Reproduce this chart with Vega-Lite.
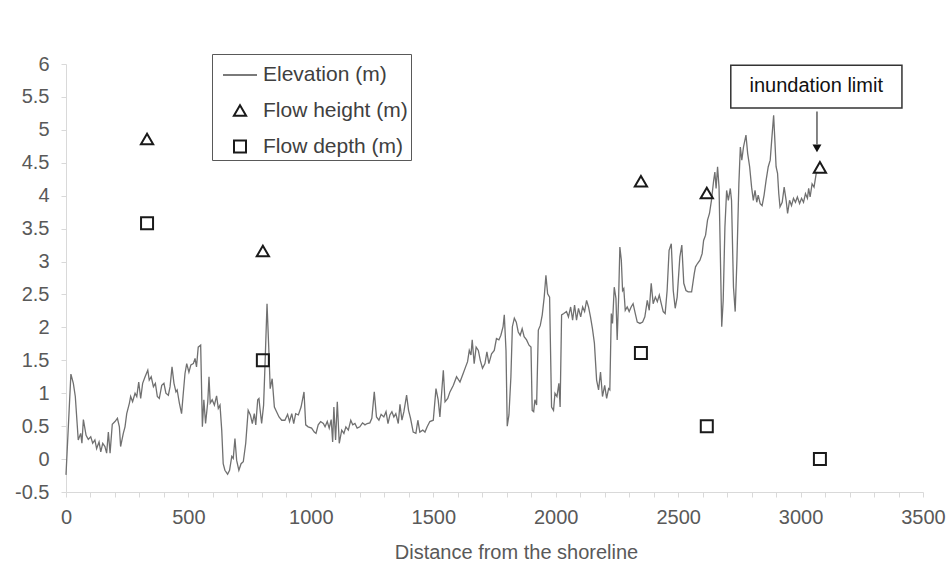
{
  "$schema": "https://vega.github.io/schema/vega-lite/v6.json",
  "width": 857,
  "height": 428,
  "autosize": {"type": "none"},
  "padding": {"left": 66, "top": 64, "right": 28, "bottom": 80},
  "background": "white",
  "config": {
    "view": {"stroke": null},
    "font": "Liberation Sans",
    "axis": {"grid": false, "labelOverlap": false, "labelSeparation": -40, "domainColor": "#d9d9d9", "tickColor": "#d9d9d9", "tickSize": 5, "labelFont": "Liberation Sans", "labelFontSize": 20, "labelColor": "#595959", "titleFont": "Liberation Sans", "titleFontSize": 20, "titleColor": "#595959", "titleFontWeight": "normal"},
    "axisX": {"tickCount": 35, "labelExpr": "datum.value % 500 === 0 ? format(datum.value, 'd') : ''", "labelFlush": false, "labelPadding": 10, "titleX": 450, "titleY": 66, "titleBaseline": "alphabetic", "titleAlign": "center"},
    "axisY": {"tickCount": 13, "labelExpr": "datum.value < 0 ? '-' + format(-datum.value, '~g') : format(datum.value, '~g')", "labelPadding": 12},
    "legend": {"orient": "none", "legendX": 146, "legendY": -10, "strokeColor": "#595959", "fillColor": "white", "padding": 3, "symbolOffset": 7, "labelFontSize": 21, "labelColor": "#404040", "labelFont": "Liberation Sans", "symbolStrokeWidth": 2, "labelOffset": 5, "rowPadding": 14}
  },
  "datasets": {
    "elevation": [
      {"d":0,"e":-0.24},{"d":20,"e":1.29},{"d":30,"e":1.15},{"d":38,"e":0.95},{"d":50,"e":0.29},{"d":60,"e":0.39},{"d":65,"e":0.24},{"d":71,"e":0.6},{"d":82,"e":0.36},{"d":91,"e":0.3},{"d":101,"e":0.34},{"d":109,"e":0.24},{"d":118,"e":0.29},{"d":125,"e":0.16},{"d":135,"e":0.26},{"d":142,"e":0.11},{"d":150,"e":0.24},{"d":159,"e":0.19},{"d":166,"e":0.09},{"d":173,"e":0.41},{"d":180,"e":0.09},{"d":189,"e":0.53},{"d":200,"e":0.57},{"d":210,"e":0.62},{"d":218,"e":0.49},{"d":223,"e":0.19},{"d":234,"e":0.39},{"d":241,"e":0.49},{"d":248,"e":0.69},{"d":259,"e":0.85},{"d":264,"e":0.95},{"d":272,"e":0.87},{"d":282,"e":1.0},{"d":289,"e":0.95},{"d":297,"e":1.17},{"d":305,"e":0.92},{"d":313,"e":1.15},{"d":323,"e":1.25},{"d":334,"e":1.35},{"d":340,"e":1.2},{"d":348,"e":1.25},{"d":357,"e":1.1},{"d":365,"e":1.15},{"d":373,"e":0.95},{"d":381,"e":0.92},{"d":391,"e":1.12},{"d":400,"e":1.15},{"d":408,"e":1.0},{"d":418,"e":0.97},{"d":425,"e":1.1},{"d":433,"e":1.4},{"d":441,"e":1.15},{"d":449,"e":1.02},{"d":454,"e":1.05},{"d":463,"e":0.85},{"d":472,"e":0.69},{"d":479,"e":1.0},{"d":486,"e":1.3},{"d":493,"e":1.45},{"d":502,"e":1.32},{"d":510,"e":1.43},{"d":520,"e":1.45},{"d":527,"e":1.53},{"d":533,"e":1.4},{"d":540,"e":1.7},{"d":550,"e":1.73},{"d":557,"e":0.49},{"d":563,"e":0.9},{"d":570,"e":0.54},{"d":579,"e":0.87},{"d":584,"e":1.25},{"d":589,"e":0.85},{"d":597,"e":0.9},{"d":606,"e":0.82},{"d":615,"e":0.96},{"d":622,"e":0.77},{"d":629,"e":0.82},{"d":636,"e":0.44},{"d":642,"e":-0.07},{"d":649,"e":-0.17},{"d":660,"e":-0.23},{"d":668,"e":-0.17},{"d":677,"e":0.04},{"d":683,"e":0.01},{"d":690,"e":0.31},{"d":697,"e":-0.02},{"d":706,"e":-0.17},{"d":715,"e":-0.07},{"d":724,"e":-0.04},{"d":734,"e":0.24},{"d":744,"e":0.74},{"d":753,"e":0.67},{"d":761,"e":0.54},{"d":769,"e":0.69},{"d":775,"e":0.52},{"d":783,"e":0.9},{"d":788,"e":0.92},{"d":793,"e":0.74},{"d":799,"e":0.54},{"d":807,"e":0.82},{"d":812,"e":1.35},{"d":821,"e":2.36},{"d":829,"e":1.6},{"d":834,"e":1.07},{"d":842,"e":1.22},{"d":851,"e":0.79},{"d":860,"e":0.72},{"d":870,"e":0.64},{"d":881,"e":0.59},{"d":894,"e":0.59},{"d":905,"e":0.68},{"d":913,"e":0.57},{"d":922,"e":0.69},{"d":930,"e":0.54},{"d":938,"e":0.69},{"d":949,"e":0.67},{"d":960,"e":0.79},{"d":972,"e":1.02},{"d":979,"e":0.52},{"d":989,"e":0.49},{"d":1003,"e":0.47},{"d":1014,"e":0.41},{"d":1021,"e":0.39},{"d":1030,"e":0.52},{"d":1040,"e":0.57},{"d":1051,"e":0.54},{"d":1058,"e":0.49},{"d":1067,"e":0.57},{"d":1075,"e":0.47},{"d":1083,"e":0.6},{"d":1089,"e":0.26},{"d":1094,"e":0.79},{"d":1101,"e":0.29},{"d":1108,"e":0.87},{"d":1116,"e":0.24},{"d":1126,"e":0.44},{"d":1135,"e":0.39},{"d":1143,"e":0.49},{"d":1153,"e":0.44},{"d":1163,"e":0.59},{"d":1171,"e":0.52},{"d":1180,"e":0.54},{"d":1189,"e":0.47},{"d":1200,"e":0.49},{"d":1211,"e":0.55},{"d":1221,"e":0.52},{"d":1230,"e":0.54},{"d":1241,"e":0.55},{"d":1249,"e":0.62},{"d":1259,"e":1.02},{"d":1268,"e":0.64},{"d":1278,"e":0.59},{"d":1287,"e":0.68},{"d":1298,"e":0.64},{"d":1307,"e":0.72},{"d":1315,"e":0.54},{"d":1323,"e":0.67},{"d":1331,"e":0.72},{"d":1339,"e":0.64},{"d":1347,"e":0.69},{"d":1357,"e":0.54},{"d":1364,"e":0.83},{"d":1372,"e":0.59},{"d":1380,"e":0.72},{"d":1391,"e":0.97},{"d":1399,"e":0.74},{"d":1407,"e":0.62},{"d":1418,"e":0.41},{"d":1429,"e":0.39},{"d":1437,"e":0.59},{"d":1445,"e":0.41},{"d":1457,"e":0.44},{"d":1466,"e":0.41},{"d":1475,"e":0.49},{"d":1486,"e":0.57},{"d":1500,"e":0.59},{"d":1511,"e":1.07},{"d":1520,"e":0.9},{"d":1527,"e":0.64},{"d":1534,"e":1.0},{"d":1541,"e":1.35},{"d":1548,"e":0.87},{"d":1559,"e":0.92},{"d":1568,"e":1.02},{"d":1582,"e":1.12},{"d":1595,"e":1.25},{"d":1609,"e":1.17},{"d":1622,"e":1.3},{"d":1632,"e":1.4},{"d":1640,"e":1.48},{"d":1647,"e":1.65},{"d":1654,"e":1.58},{"d":1659,"e":1.81},{"d":1667,"e":1.45},{"d":1675,"e":1.7},{"d":1684,"e":1.65},{"d":1692,"e":1.5},{"d":1701,"e":1.38},{"d":1711,"e":1.45},{"d":1719,"e":1.63},{"d":1727,"e":1.45},{"d":1738,"e":1.6},{"d":1749,"e":1.65},{"d":1758,"e":1.83},{"d":1768,"e":1.81},{"d":1776,"e":1.88},{"d":1785,"e":2.01},{"d":1790,"e":2.19},{"d":1797,"e":1.65},{"d":1802,"e":0.5},{"d":1809,"e":0.67},{"d":1817,"e":1.25},{"d":1823,"e":2.01},{"d":1831,"e":2.14},{"d":1839,"e":2.08},{"d":1847,"e":1.93},{"d":1855,"e":1.88},{"d":1863,"e":1.98},{"d":1871,"e":1.86},{"d":1881,"e":1.81},{"d":1891,"e":1.73},{"d":1899,"e":1.7},{"d":1904,"e":0.74},{"d":1910,"e":0.72},{"d":1915,"e":0.9},{"d":1922,"e":0.82},{"d":1929,"e":1.96},{"d":1937,"e":2.03},{"d":1945,"e":2.19},{"d":1953,"e":2.46},{"d":1960,"e":2.79},{"d":1967,"e":2.51},{"d":1975,"e":2.46},{"d":1983,"e":0.79},{"d":1991,"e":0.74},{"d":1997,"e":1.0},{"d":2005,"e":0.95},{"d":2013,"e":1.15},{"d":2018,"e":0.79},{"d":2024,"e":2.19},{"d":2033,"e":2.21},{"d":2044,"e":2.24},{"d":2052,"e":2.16},{"d":2061,"e":2.31},{"d":2069,"e":2.11},{"d":2077,"e":2.34},{"d":2085,"e":2.11},{"d":2093,"e":2.29},{"d":2102,"e":2.16},{"d":2110,"e":2.31},{"d":2118,"e":2.24},{"d":2126,"e":2.41},{"d":2134,"e":2.31},{"d":2142,"e":2.16},{"d":2150,"e":1.98},{"d":2158,"e":1.76},{"d":2167,"e":1.2},{"d":2175,"e":1.05},{"d":2183,"e":1.32},{"d":2191,"e":0.95},{"d":2200,"e":1.12},{"d":2208,"e":0.92},{"d":2216,"e":1.07},{"d":2221,"e":1.05},{"d":2227,"e":2.21},{"d":2232,"e":2.06},{"d":2239,"e":2.61},{"d":2246,"e":2.44},{"d":2251,"e":1.81},{"d":2257,"e":2.46},{"d":2262,"e":3.22},{"d":2268,"e":3.02},{"d":2273,"e":2.56},{"d":2278,"e":2.59},{"d":2284,"e":2.26},{"d":2292,"e":2.31},{"d":2300,"e":2.24},{"d":2308,"e":2.31},{"d":2316,"e":2.36},{"d":2325,"e":2.21},{"d":2333,"e":2.08},{"d":2344,"e":2.06},{"d":2355,"e":2.08},{"d":2364,"e":2.16},{"d":2374,"e":2.41},{"d":2382,"e":2.26},{"d":2390,"e":2.67},{"d":2398,"e":2.36},{"d":2407,"e":2.46},{"d":2415,"e":2.39},{"d":2423,"e":2.49},{"d":2431,"e":2.36},{"d":2439,"e":2.24},{"d":2447,"e":2.21},{"d":2455,"e":2.56},{"d":2463,"e":3.17},{"d":2472,"e":3.27},{"d":2480,"e":2.56},{"d":2488,"e":2.29},{"d":2496,"e":2.46},{"d":2507,"e":3.07},{"d":2515,"e":3.25},{"d":2523,"e":2.67},{"d":2532,"e":2.56},{"d":2541,"e":2.54},{"d":2555,"e":2.54},{"d":2566,"e":2.82},{"d":2571,"e":2.92},{"d":2579,"e":2.97},{"d":2589,"e":3.02},{"d":2598,"e":3.12},{"d":2604,"e":3.32},{"d":2612,"e":3.4},{"d":2620,"e":3.63},{"d":2628,"e":3.73},{"d":2636,"e":3.93},{"d":2645,"e":4.23},{"d":2650,"e":4.36},{"d":2655,"e":4.11},{"d":2661,"e":4.44},{"d":2667,"e":4.13},{"d":2672,"e":3.17},{"d":2678,"e":2.01},{"d":2684,"e":2.41},{"d":2691,"e":3.52},{"d":2698,"e":4.08},{"d":2705,"e":3.93},{"d":2713,"e":4.11},{"d":2718,"e":3.93},{"d":2726,"e":2.61},{"d":2733,"e":2.24},{"d":2740,"e":3.02},{"d":2748,"e":4.18},{"d":2754,"e":4.74},{"d":2760,"e":4.54},{"d":2767,"e":4.74},{"d":2777,"e":4.92},{"d":2784,"e":4.64},{"d":2792,"e":4.44},{"d":2800,"e":4.13},{"d":2807,"e":3.93},{"d":2814,"e":4.08},{"d":2821,"e":3.9},{"d":2827,"e":4.01},{"d":2835,"e":3.88},{"d":2843,"e":3.85},{"d":2851,"e":4.01},{"d":2859,"e":4.23},{"d":2868,"e":4.44},{"d":2876,"e":4.54},{"d":2882,"e":4.84},{"d":2890,"e":5.22},{"d":2895,"e":4.84},{"d":2900,"e":4.44},{"d":2906,"e":4.34},{"d":2911,"e":4.03},{"d":2916,"e":3.83},{"d":2925,"e":3.9},{"d":2933,"e":4.13},{"d":2941,"e":3.93},{"d":2947,"e":3.73},{"d":2955,"e":3.93},{"d":2963,"e":3.85},{"d":2971,"e":3.96},{"d":2979,"e":3.9},{"d":2987,"e":3.98},{"d":2996,"e":3.88},{"d":3004,"e":3.96},{"d":3012,"e":3.9},{"d":3020,"e":4.03},{"d":3028,"e":3.96},{"d":3033,"e":4.11},{"d":3039,"e":3.98},{"d":3047,"e":4.18},{"d":3055,"e":4.13},{"d":3064,"e":4.34},{"d":3069,"e":4.36}
    ],
    "flow": [
      {"d":331,"h":4.86,"series":"Flow height (m)"},
      {"d":804,"h":3.16,"series":"Flow height (m)"},
      {"d":2348,"h":4.22,"series":"Flow height (m)"},
      {"d":2617,"h":4.04,"series":"Flow height (m)"},
      {"d":3079,"h":4.43,"series":"Flow height (m)"},
      {"d":331,"h":3.58,"series":"Flow depth (m)"},
      {"d":804,"h":1.5,"series":"Flow depth (m)"},
      {"d":2348,"h":1.61,"series":"Flow depth (m)"},
      {"d":2617,"h":0.5,"series":"Flow depth (m)"},
      {"d":3079,"h":0.0,"series":"Flow depth (m)"}
    ],
    "note": [{"label": "inundation limit"}]
  },
  "layer": [
    {
      "data": {"name": "elevation"},
      "mark": {"type": "line", "color": "#707070", "strokeWidth": 1.3},
      "encoding": {
        "x": {
          "field": "d", "type": "quantitative",
          "scale": {"domain": [0, 3500], "nice": false, "zero": false},
          "title": "Distance from the shoreline"
        },
        "y": {
          "field": "e", "type": "quantitative",
          "scale": {"domain": [-0.5, 6], "nice": false, "zero": false},
          "title": null
        }
      }
    },
    {
      "data": {"name": "flow"},
      "mark": {"type": "point", "filled": false, "strokeWidth": 2, "opacity": 1},
      "encoding": {
        "x": {"field": "d", "type": "quantitative", "title": "Distance from the shoreline"},
        "y": {"field": "h", "type": "quantitative", "title": null},
        "shape": {
          "field": "series", "type": "nominal", "title": null,
          "scale": {"domain": ["Elevation (m)", "Flow height (m)", "Flow depth (m)"], "range": ["stroke", "triangle-up", "square"]}
        },
        "color": {
          "field": "series", "type": "nominal", "title": null,
          "scale": {"domain": ["Elevation (m)", "Flow height (m)", "Flow depth (m)"], "range": ["#7a7a7a", "#1a1a1a", "#1a1a1a"]}
        },
        "size": {
          "field": "series", "type": "nominal", "title": null,
          "scale": {"type": "ordinal", "domain": ["Elevation (m)", "Flow height (m)", "Flow depth (m)"], "range": [1156, 150, 144]}
        }
      }
    },
    {
      "data": {"name": "note"},
      "mark": {"type": "rect", "fill": "white", "stroke": "#333333", "strokeWidth": 1.5},
      "encoding": {
        "x": {"datum": 2715, "type": "quantitative", "title": "Distance from the shoreline"},
        "x2": {"datum": 3414},
        "y": {"datum": 5.98, "type": "quantitative", "title": null},
        "y2": {"datum": 5.33}
      }
    },
    {
      "data": {"name": "note"},
      "mark": {"type": "text", "fontSize": 20, "color": "#111111", "font": "Liberation Sans", "align": "center", "baseline": "middle"},
      "encoding": {
        "x": {"datum": 3064, "type": "quantitative", "title": "Distance from the shoreline"},
        "y": {"datum": 5.66, "type": "quantitative", "title": null},
        "text": {"field": "label"}
      }
    },
    {
      "data": {"name": "note"},
      "mark": {"type": "rule", "color": "#333333", "strokeWidth": 1.2},
      "encoding": {
        "x": {"datum": 3067, "type": "quantitative", "title": "Distance from the shoreline"},
        "y": {"datum": 5.28, "type": "quantitative", "title": null},
        "y2": {"datum": 4.78}
      }
    },
    {
      "data": {"name": "note"},
      "mark": {"type": "point", "shape": "triangle-down", "filled": true, "color": "#111111", "size": 80, "opacity": 1},
      "encoding": {
        "x": {"datum": 3067, "type": "quantitative", "title": "Distance from the shoreline"},
        "y": {"datum": 4.72, "type": "quantitative", "title": null}
      }
    }
  ]
}
